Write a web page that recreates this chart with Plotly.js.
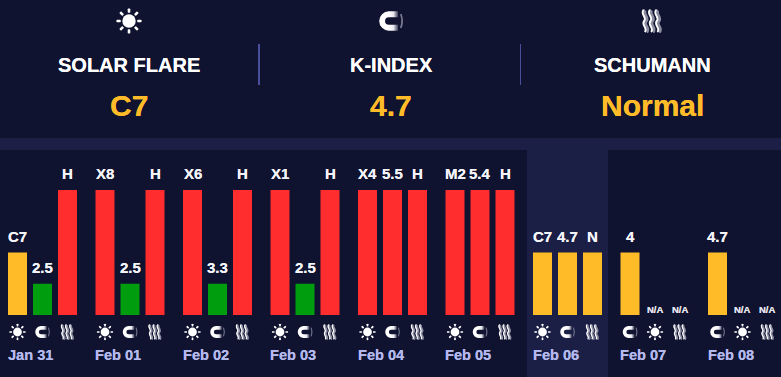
<!DOCTYPE html>
<html>
<head>
<meta charset="utf-8">
<script src="https://cdn.plot.ly/plotly-3.0.1.min.js"></script>
<style>html,body{margin:0;padding:0;background:#0f1330;overflow:hidden}#chart{width:781px;height:377px}</style>
</head>
<body>
<div id="chart"></div>
<script>
// ---- data ----
const days = ['Jan 31','Feb 01','Feb 02','Feb 03','Feb 04','Feb 05','Feb 06','Feb 07','Feb 08'];
const flareLabels = ['C7','X8','X6','X1','X4','M2','C7',null,null];
const flareLevels = [2,4,4,4,4,4,2,null,null];
const kLabels = ['2.5','2.5','3.3','2.5','5.5','5.4','4.7','4','4.7'];
const kLevels = [1,1,1,1,4,4,2,2,2];
const schumannLabels = ['H','H','H','H','H','H','N',null,null];
const schumannLevels = [4,4,4,4,4,4,2,null,null];
const headerTitles = ['SOLAR FLARE','K-INDEX','SCHUMANN'];
const headerValues = ['C7','4.7','Normal'];
const currentDay = 'Feb 06';

// ---- styling and geometry ----
const W = 781, H = 377, BASE = 315, UNIT = 31.25;
const FONT = '"Liberation Sans", Arial, sans-serif';
const BG = '#0f1330', BAND = '#1b1f45', SEP = '#4a4f9c';
const levelColor = {1:'#009e0f', 2:'#ffbb28', 4:'#ff2d2d'};
const py = p => (BASE - p) / UNIT;              // page pixel row -> y-axis units
const dayLeft = i => 8 + 87.5 * i;
const slotX = (i, s) => dayLeft(i) + 9.5 + 25 * s;

const svg = body => 'data:image/svg+xml;utf8,' + encodeURIComponent(
  '<svg xmlns="http://www.w3.org/2000/svg" width="96" height="96" viewBox="0 0 24 24">' + body + '</svg>');
const sunRays = [0,45,90,135,180,225,270,315].map(a =>
  `<rect x="10.8" y="0.4" width="2.4" height="4" rx="0.7" fill="#fff" transform="rotate(${a} 12 12)"/>`).join('');
const wavePath = x => `M${x} 1 C${x-4} 5 ${x+4.2} 8.5 ${x+0.6} 12 C${x-3} 16 ${x+5} 19 ${x+1.2} 23`;
const ICON = {
  sun: svg('<circle cx="12" cy="12" r="6.2" fill="#fff"/>' + sunRays),
  magnet: svg('<defs><linearGradient id="g" gradientUnits="userSpaceOnUse" x1="10" x2="18.5" y1="0" y2="0"><stop offset="0" stop-color="#fff"/><stop offset="0.5" stop-color="#e8e8f0"/><stop offset="1" stop-color="#3c3f58"/></linearGradient></defs>' +
    '<path d="M18.5 5.8 H10 A6.2 6.2 0 0 0 10 18.2 H18.5" fill="none" stroke="url(#g)" stroke-width="5.4"/>' +
    '<path d="M21 5.5 Q23.6 12 21 18.5" fill="none" stroke="#777a90" stroke-width="1.6"/>'),
  wave: svg([3.2,9.8,16.4].map(x =>
    `<path d="${wavePath(x + 1.6)}" fill="none" stroke="#8b8c9f" stroke-width="4.2"/>` +
    `<path d="${wavePath(x)}" fill="none" stroke="#ffffff" stroke-width="1.9"/>`).join(''))
};

function barTrace(levels, slotOf) {
  const idx = levels.map((v, i) => v == null ? -1 : i).filter(i => i >= 0);
  return {
    type:'bar', x: idx.map(i => slotX(i, slotOf(i))), y: idx.map(i => levels[i]),
    width: 19, marker:{color: idx.map(i => levelColor[levels[i]]), line:{width:0}},
    hoverinfo:'skip', showlegend:false
  };
}
const hasFlare = i => flareLevels[i] != null;
const flareSlot = i => hasFlare(i) ? 0 : 1;
const kSlot = i => hasFlare(i) ? 1 : 0;
const schSlot = () => 2;

const annotations = [], images = [];
function label(x, yPx, text, size, color, anchor) {
  annotations.push({x, y: py(yPx), xref:'x', yref:'y', text: String(text), showarrow:false,
    xanchor: anchor || 'center', yanchor:'middle', borderpad:0, borderwidth:0,
    font:{family:FONT, size, color, weight:700, shadow:`0 0 0.6px ${color}`}});
}
function icon(name, x, yPx, w, h) {
  images.push({source: ICON[name], xref:'x', yref:'y', x, y: py(yPx), sizex:w, sizey:h/UNIT,
    xanchor:'center', yanchor:'middle', sizing:'stretch', layer:'above'});
}
function metric(labels, levels, slotOf, iconName, w, h) {
  days.forEach((d, i) => {
    const x = slotX(i, slotOf(i));
    if (levels[i] != null) label(x, BASE - levels[i] * UNIT - 16.5, labels[i], 15, '#f4f4f8');
    else label(x, 309, 'N/A', 9.5, '#e4e4ee');
    icon(iconName, x, 332, w, h);
  });
}
metric(flareLabels, flareLevels, flareSlot, 'sun', 17, 17);
metric(kLabels, kLevels, kSlot, 'magnet', 16, 16);
metric(schumannLabels, schumannLevels, schSlot, 'wave', 15, 16);
days.forEach((d, i) => label(dayLeft(i) - 0.4, 355, d, 14.6, '#b4b9ee', 'left'));

const headerX = [129, 391, 652];
['sun','magnet','wave'].forEach((n, k) => {
  icon(n, headerX[k], 21, n === 'wave' ? 23 : 26, n === 'wave' ? 24 : 26);
  label(headerX[k], 65, headerTitles[k], 20, '#ffffff');
  label(headerX[k], 105.5, headerValues[k], 30, '#ffbb28');
});

const cur = days.indexOf(currentDay);
const rect = (x0, x1, p0, p1, color) => ({type:'rect', layer:'below', xref:'x', yref:'y',
  x0, x1, y0: py(p0), y1: py(p1), fillcolor:color, line:{width:0}});
const shapes = [
  rect(0, W, 138, 150, BAND),
  rect(dayLeft(cur) - 6, dayLeft(cur) + 75, 150, H, BAND),
  rect(258, 260, 44, 85, SEP),
  rect(520, 521, 44, 85, SEP)
];

const data = [
  barTrace(flareLevels, flareSlot),
  barTrace(kLevels, kSlot),
  barTrace(schumannLevels, schSlot)
];
const layout = {
  width:W, height:H, margin:{l:0,r:0,t:0,b:0,pad:0},
  paper_bgcolor:BG, plot_bgcolor:BG, barmode:'overlay',
  xaxis:{range:[0,W], visible:false, fixedrange:true},
  yaxis:{range:[py(H), py(0)], visible:false, fixedrange:true},
  shapes, annotations, images, showlegend:false
};
Plotly.newPlot('chart', data, layout, {displayModeBar:false, staticPlot:true});
</script>
</body>
</html>
